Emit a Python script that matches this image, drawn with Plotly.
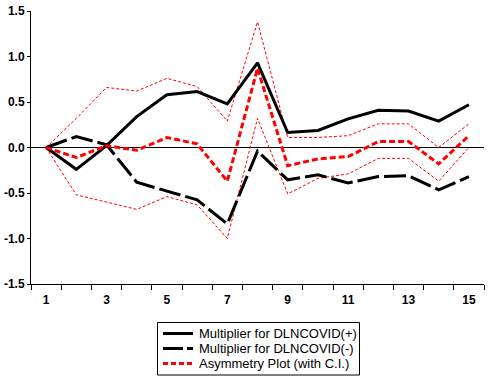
import plotly.graph_objects as go

periods = list(range(1, 16))
mult_pos = [0.0, -0.24, 0.02, 0.34, 0.58, 0.615, 0.48, 0.93, 0.165, 0.187, 0.315, 0.41, 0.40, 0.29, 0.47]
mult_neg = [0.0, 0.12, 0.03, -0.38, -0.48, -0.575, -0.84, -0.04, -0.355, -0.30, -0.39, -0.32, -0.31, -0.465, -0.32]
asym = [0.0, -0.11, 0.02, -0.03, 0.11, 0.04, -0.37, 0.87, -0.20, -0.125, -0.10, 0.065, 0.066, -0.18, 0.13]
ci_upper = [0.0, 0.32, 0.66, 0.62, 0.76, 0.67, 0.29, 1.38, 0.11, 0.11, 0.13, 0.26, 0.26, 0.0, 0.26]
ci_lower = [0.0, -0.52, -0.60, -0.68, -0.54, -0.63, -1.0, 0.32, -0.51, -0.34, -0.29, -0.12, -0.12, -0.37, 0.0]

x_labels = [1, 3, 5, 7, 9, 11, 13, 15]
y_ticks = [-1.5, -1.0, -0.5, 0.0, 0.5, 1.0, 1.5]

legend_names = ["Multiplier for DLNCOVID(+)", "Multiplier for DLNCOVID(-)", "Asymmetry Plot (with C.I.)"]
legend_styles = [("black", 3, "solid"), ("black", 3, "20px,4px"), ("#ff0000", 3, "5px,3px")]

W, H = 488, 376
ML, MR, MT, MB = 31, 4, 11, 92
PW, PH = W - ML - MR, H - MT - MB


def px(x):
    return (x - ML) / PW


def py(y):
    return (H - MB - y) / PH


fig = go.Figure()
fig.add_trace(go.Scatter(x=periods, y=ci_upper, mode="lines", showlegend=False,
                         line=dict(color="#ff0000", width=1, dash="3px,2px")))
fig.add_trace(go.Scatter(x=periods, y=ci_lower, mode="lines", showlegend=False,
                         line=dict(color="#ff0000", width=1, dash="3px,2px")))
fig.add_trace(go.Scatter(x=periods, y=mult_pos, mode="lines", name=legend_names[0], showlegend=False,
                         line=dict(color=legend_styles[0][0], width=3)))
fig.add_trace(go.Scatter(x=periods, y=mult_neg, mode="lines", name=legend_names[1], showlegend=False,
                         line=dict(color=legend_styles[1][0], width=3, dash="22px,5px")))
fig.add_trace(go.Scatter(x=periods, y=asym, mode="lines", name=legend_names[2], showlegend=False,
                         line=dict(color=legend_styles[2][0], width=3, dash="6px,3px")))

# legend box drawn in the bottom margin
shapes = [dict(type="rect", xref="paper", yref="paper",
               x0=px(157.5), x1=px(359.5), y0=py(322.5), y1=py(375),
               line=dict(color="black", width=1), fillcolor="white", layer="above")]
annotations = []
row_y = [333.5, 348.5, 363.5]
for name, (col, wd, dsh), ry in zip(legend_names, legend_styles, row_y):
    shapes.append(dict(type="line", xref="paper", yref="paper",
                       x0=px(163), x1=px(193), y0=py(ry), y1=py(ry),
                       line=dict(color=col, width=wd, dash=dsh), layer="above"))
    annotations.append(dict(xref="paper", yref="paper", x=px(197), y=py(ry),
                            xanchor="left", yanchor="middle", showarrow=False,
                            text=name, font=dict(family="Liberation Sans", size=13, color="black")))

tick_font = dict(family="Liberation Sans", size=12, color="black", weight="bold")

fig.update_layout(
    width=W, height=H,
    margin=dict(l=ML, r=MR, t=MT, b=MB),
    paper_bgcolor="white", plot_bgcolor="white",
    hovermode=False,
    showlegend=False,
    shapes=shapes,
    annotations=annotations,
    xaxis=dict(range=[0.5, 15.5], tickvals=x_labels, ticktext=[str(v) for v in x_labels],
               ticks="outside", ticklen=5, tickcolor="rgba(0,0,0,0)",
               showgrid=False, zeroline=False, automargin=False,
               showline=True, linecolor="black", linewidth=1,
               tickfont=tick_font,
               minor=dict(tickvals=[i + 0.5 for i in range(0, 16)], ticks="outside",
                          ticklen=5, tickcolor="black", tickwidth=1, showgrid=False)),
    yaxis=dict(range=[-1.5, 1.5], tickvals=y_ticks,
               ticktext=[f"{v:.1f}" for v in y_ticks],
               ticks="outside", ticklen=3, tickcolor="black", tickwidth=1,
               showgrid=False, zeroline=True, zerolinecolor="black", zerolinewidth=1,
               showline=True, linecolor="black", linewidth=1, automargin=False,
               tickfont=tick_font),
)

fig.write_html("out.html", config={"displayModeBar": False},
               post_script="document.body.style.margin='0';document.body.style.overflow='hidden';")
